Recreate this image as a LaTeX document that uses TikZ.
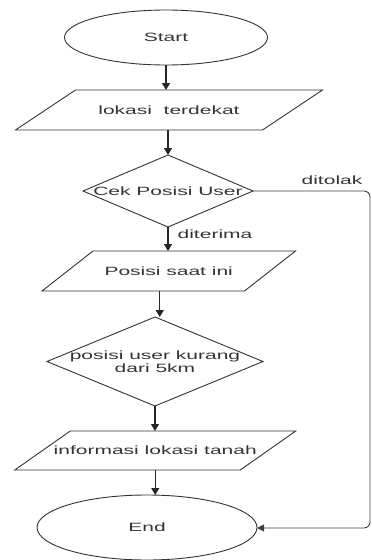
\documentclass[tikz,border=0pt]{standalone}
\usepackage{fontspec}
\setmainfont[FakeStretch=1.75]{Liberation Sans}
\usetikzlibrary{shapes.geometric,arrows.meta}
\begin{document}
\begin{tikzpicture}[x=1pt,y=-1pt,
  lbl/.style={font=\fontsize{12}{13}\selectfont, text=black!80},
  outline/.style={draw=black!80, line width=0.9pt},
  term/.style={outline, ellipse, inner sep=0pt, outer sep=0pt, lbl},
  dec/.style={outline, diamond, inner sep=0pt, outer sep=0pt},
  ptext/.style={rectangle, inner sep=0pt, outer sep=0pt, minimum height=40pt, lbl},
  arr/.style={draw=black!85, line width=1.3pt, -{Triangle[length=7pt,width=8pt]}},
  thinarr/.style={draw=black!75, line width=0.9pt, rounded corners=6pt, -{Triangle[length=7pt,width=7pt]}},
  ]
\useasboundingbox (0,0) rectangle (372,560);
% Start
\node[term, minimum width=203pt, minimum height=55pt] (start) at (166,37.5) {Start};
% lokasi terdekat
\node[ptext, minimum width=247pt] (p1) at (169,110) {lokasi\ \ terdekat};
\draw[outline] ([xshift=30pt]p1.north west) -- ([xshift=30pt]p1.north east)
  -- ([xshift=-30pt]p1.south east) -- ([xshift=-30pt]p1.south west) -- cycle;
% Cek Posisi User
\node[dec, minimum width=170pt, minimum height=72pt,
  label={[lbl]center:Cek Posisi User}] (d1) at (168,191) {};
% Posisi saat ini
\node[ptext, minimum width=202.5pt] (p2) at (168.75,271) {Posisi saat ini};
\draw[outline] ([xshift=25.5pt]p2.north west) -- ([xshift=25.5pt]p2.north east)
  -- ([xshift=-25.5pt]p2.south east) -- ([xshift=-25.5pt]p2.south west) -- cycle;
% posisi user kurang dari 5km
\node[dec, minimum width=216pt, minimum height=89pt,
  label={[lbl, align=center]center:posisi user kurang\\dari 5km}] (d2) at (155,361.5) {};
% informasi lokasi tanah
\node[ptext, minimum width=225.5pt, minimum height=39pt] (p3) at (155.25,450.5) {informasi lokasi tanah};
\draw[outline] ([xshift=27.75pt]p3.north west) -- ([xshift=27.75pt]p3.north east)
  -- ([xshift=-27.75pt]p3.south east) -- ([xshift=-27.75pt]p3.south west) -- cycle;
% End
\node[term, minimum width=220pt, minimum height=65pt] (end) at (147,527.5) {End};
% labels
\node[lbl] (tolak) at (332,180) {ditolak};
\node[lbl] (terima) at (215,234) {diterima};
% connectors
\draw[arr] (start.south) -- (start.south |- p1.north);
\draw[arr] (p1.south -| d1.north) -- (d1.north);
\draw[arr] (d1.south) -- (d1.south |- p2.north);
\draw[arr] ([xshift=-9pt]p2.south) -- ([xshift=-9pt]p2.south |- d2.north);
\draw[arr] (d2.south) -- (d2.south |- p3.north);
\draw[arr] (p3.south) -- (p3.south |- end.north);
\coordinate (c1) at (370,191);
\coordinate (c2) at (370,528);
\draw[thinarr] (d1.east) -- (c1) -- (c2) -- (end.east |- c2);
\end{tikzpicture}
\end{document}
